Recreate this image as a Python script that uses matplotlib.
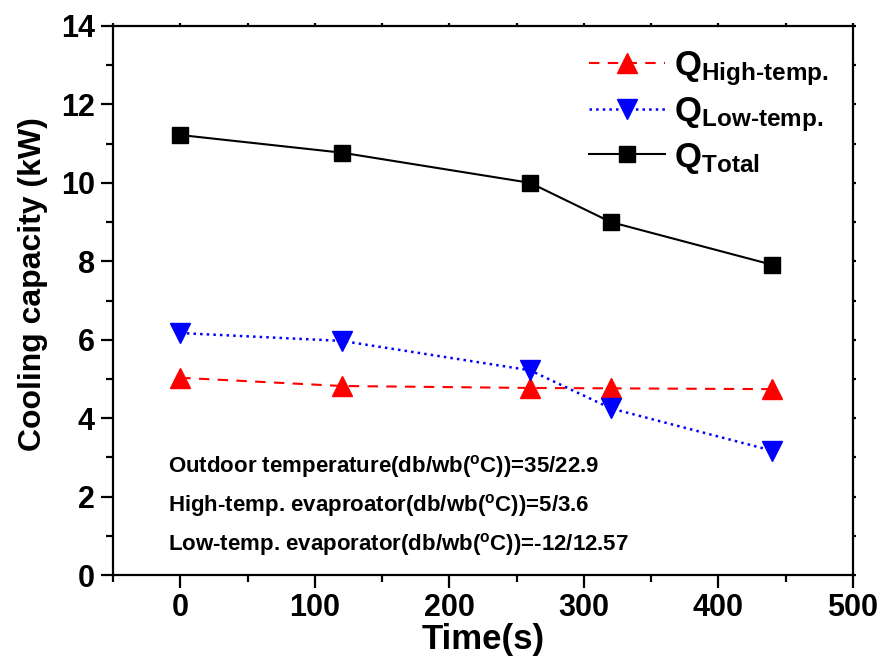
import numpy as np
import matplotlib
matplotlib.use('Agg')
import matplotlib.pyplot as plt
from matplotlib.ticker import MultipleLocator

plt.rcParams['font.family'] = ['Liberation Sans', 'DejaVu Sans']
plt.rcParams['font.weight'] = 'bold'
plt.rcParams['mathtext.fontset'] = 'custom'
plt.rcParams['mathtext.rm'] = 'Liberation Sans:bold'
plt.rcParams['mathtext.bf'] = 'Liberation Sans:bold'
plt.rcParams['mathtext.it'] = 'Liberation Sans:bold'

# time (s) and cooling capacity (kW)
time_s = [0, 120, 260, 320, 440]
q_high = [5.03, 4.82, 4.77, 4.76, 4.74]
q_low = [6.17, 5.97, 5.22, 4.25, 3.17]
q_total = [11.22, 10.77, 10.0, 9.0, 7.91]

notes = [
    r'Outdoor temperature(db/wb($^{\mathrm{o}}$C))=35/22.9',
    r'High-temp. evaproator(db/wb($^{\mathrm{o}}$C))=5/3.6',
    r'Low-temp. evaporator(db/wb($^{\mathrm{o}}$C))=-12/12.57',
]

fig = plt.figure(figsize=(8.86, 6.63), dpi=100)
ax = fig.add_axes([0.1275, 0.1327, 0.8353, 0.8281])

ax.plot(time_s, q_high, color='red', ls='--', dashes=(5, 4), lw=1.5,
        marker='^', ms=14, label=r'Q$_{\text{High-temp.}}$')
ax.plot(time_s, q_low, color='blue', ls=':', lw=1.8,
        marker='v', ms=14, label=r'Q$_{\text{Low-temp.}}$')
ax.plot(time_s, q_total, color='black', ls='-', lw=1.5,
        marker='s', ms=12, label=r'Q$_{\text{Total}}$')

ax.set_xlim(-50, 500)
ax.set_ylim(0, 14)
ax.xaxis.set_major_locator(MultipleLocator(100))
ax.xaxis.set_minor_locator(MultipleLocator(50))
ax.yaxis.set_major_locator(MultipleLocator(2))
ax.yaxis.set_minor_locator(MultipleLocator(1))

for sp in ax.spines.values():
    sp.set_linewidth(1.6)

ax.tick_params(which='major', direction='out', length=9, width=1.6,
               labelsize=22, pad=4)
ax.tick_params(which='minor', direction='out', length=5, width=1.6)
ax.tick_params(axis='x', which='both', top=True, labeltop=False)
ax.tick_params(axis='y', which='both', right=True, labelright=False)
for t in ax.xaxis.get_major_ticks() + ax.xaxis.get_minor_ticks():
    t.tick2line.set_markersize(2)
for t in ax.yaxis.get_major_ticks() + ax.yaxis.get_minor_ticks():
    t.tick2line.set_markersize(2)

ax.set_xlabel('Time(s)', fontsize=25, fontweight='bold', labelpad=0)
ax.set_ylabel('Cooling capacity (kW)', fontsize=23, fontweight='bold')
ax.yaxis.set_label_coords(-0.088, 0.53)

for i, s in enumerate(notes):
    ax.text(0.075, 0.198 - i * 0.071, s, transform=ax.transAxes,
            fontsize=16, fontweight='bold', va='center', ha='left')

leg = ax.legend(loc='upper left', frameon=False, fontsize=25,
                bbox_to_anchor=(0.643, 0.958), handlelength=2.2,
                labelspacing=0.2, handletextpad=0.25, borderpad=0,
                borderaxespad=0)

fig.savefig('out.png', dpi=100)
